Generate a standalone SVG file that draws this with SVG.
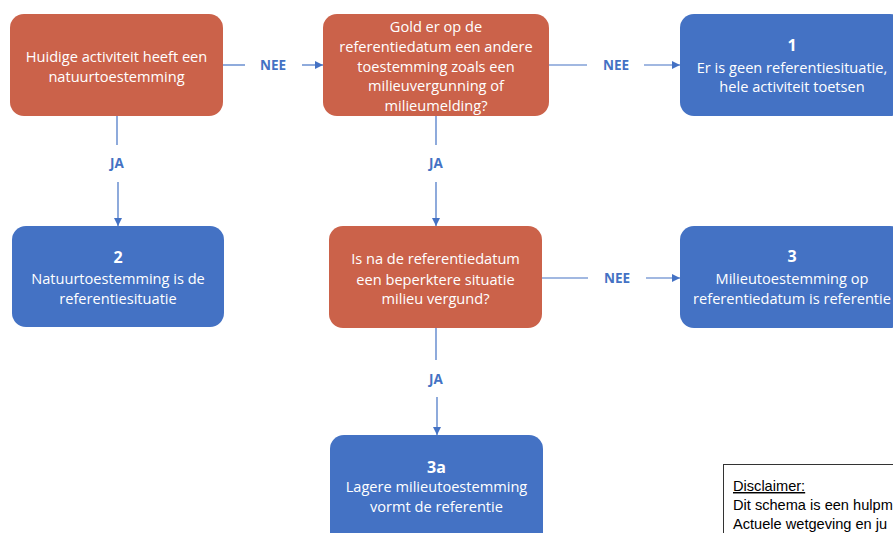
<svg xmlns="http://www.w3.org/2000/svg" width="893" height="533" viewBox="0 0 893 533">
<style>
.or{fill:#CB624A}
.bl{fill:#4472C4}
.t{font-family:"Open Sans","Liberation Sans",sans-serif;font-size:14.6px;fill:#fff;text-anchor:middle}
.n{font-weight:bold;font-size:16px}
.lbl{font-family:"Open Sans","Liberation Sans",sans-serif;font-size:13.5px;font-weight:bold;fill:#4472C4;text-anchor:middle}
.c{stroke:#4472C4;stroke-width:1.2;fill:none}
.d{font-family:"Liberation Sans","Open Sans",sans-serif;font-size:14.6px;fill:#000}
</style>
<defs>
<marker id="ah" viewBox="0 0 10 10" refX="10" refY="5" markerWidth="8" markerHeight="8" markerUnits="userSpaceOnUse" orient="auto">
<path d="M0,0 L10,5 L0,10 z" fill="#4472C4"/>
</marker>
</defs>
<rect width="893" height="533" fill="#fff"/>
<g id="connectors">
<line class="c" x1="223" y1="65" x2="245" y2="65"/>
<line class="c" x1="302" y1="65" x2="323" y2="65" marker-end="url(#ah)"/>
<text class="lbl" x="273" y="70">NEE</text>
<line class="c" x1="549" y1="65" x2="587" y2="65"/>
<line class="c" x1="644" y1="65" x2="680" y2="65" marker-end="url(#ah)"/>
<text class="lbl" x="616" y="70">NEE</text>
<line class="c" x1="117" y1="116" x2="117" y2="145"/>
<line class="c" x1="118" y1="182" x2="118" y2="226" marker-end="url(#ah)"/>
<text class="lbl" x="117" y="168">JA</text>
<line class="c" x1="436" y1="116" x2="436" y2="145"/>
<line class="c" x1="436" y1="182" x2="436" y2="226" marker-end="url(#ah)"/>
<text class="lbl" x="436" y="168">JA</text>
<line class="c" x1="542" y1="278" x2="588" y2="278"/>
<line class="c" x1="646" y1="278" x2="680" y2="278" marker-end="url(#ah)"/>
<text class="lbl" x="617" y="283">NEE</text>
<line class="c" x1="436" y1="328" x2="436" y2="360"/>
<line class="c" x1="437" y1="397" x2="437" y2="435" marker-end="url(#ah)"/>
<text class="lbl" x="436" y="384">JA</text>
</g>
<g id="q1">
<rect class="or" x="10" y="14" width="213" height="102" rx="14"/>
<text class="t" x="116.5" y="62">Huidige activiteit heeft een</text>
<text class="t" x="116.5" y="82">natuurtoestemming</text>
</g>
<g id="q2">
<rect class="or" x="323" y="14" width="226" height="102" rx="14"/>
<text class="t" x="436" y="32">Gold er op de</text>
<text class="t" x="436" y="52">referentiedatum een andere</text>
<text class="t" x="436" y="72">toestemming zoals een</text>
<text class="t" x="436" y="91">milieuvergunning of</text>
<text class="t" x="436" y="111">milieumelding?</text>
</g>
<g id="r1">
<rect class="bl" x="680" y="14" width="224" height="102" rx="14"/>
<text class="t n" x="792" y="51">1</text>
<text class="t" x="792" y="73">Er is geen referentiesituatie,</text>
<text class="t" x="792" y="92">hele activiteit toetsen</text>
</g>
<g id="r2">
<rect class="bl" x="12" y="226" width="212" height="101" rx="14"/>
<text class="t n" x="118" y="263">2</text>
<text class="t" x="118" y="284">Natuurtoestemming is de</text>
<text class="t" x="118" y="304">referentiesituatie</text>
</g>
<g id="q3">
<rect class="or" x="329" y="226" width="213" height="102" rx="14"/>
<text class="t" x="435.5" y="264">Is na de referentiedatum</text>
<text class="t" x="435.5" y="285">een beperktere situatie</text>
<text class="t" x="435.5" y="304">milieu vergund?</text>
</g>
<g id="r3">
<rect class="bl" x="680" y="226" width="224" height="102" rx="14"/>
<text class="t n" x="792" y="262">3</text>
<text class="t" x="792" y="284">Milieutoestemming op</text>
<text class="t" x="792" y="304">referentiedatum is referentie</text>
</g>
<g id="r3a">
<rect class="bl" x="330" y="435" width="213" height="120" rx="14"/>
<text class="t n" x="436.5" y="473">3a</text>
<text class="t" x="436.5" y="492">Lagere milieutoestemming</text>
<text class="t" x="436.5" y="512">vormt de referentie</text>
</g>
<g id="disclaimer">
<rect x="723.5" y="464.5" width="200" height="100" fill="#fff" stroke="#333" stroke-width="1"/>
<text class="d" x="733" y="491" text-decoration="underline">Disclaimer:</text>
<text class="d" x="733" y="510">Dit schema is een hulpm</text>
<text class="d" x="733" y="529">Actuele wetgeving en ju</text>
</g>
</svg>
